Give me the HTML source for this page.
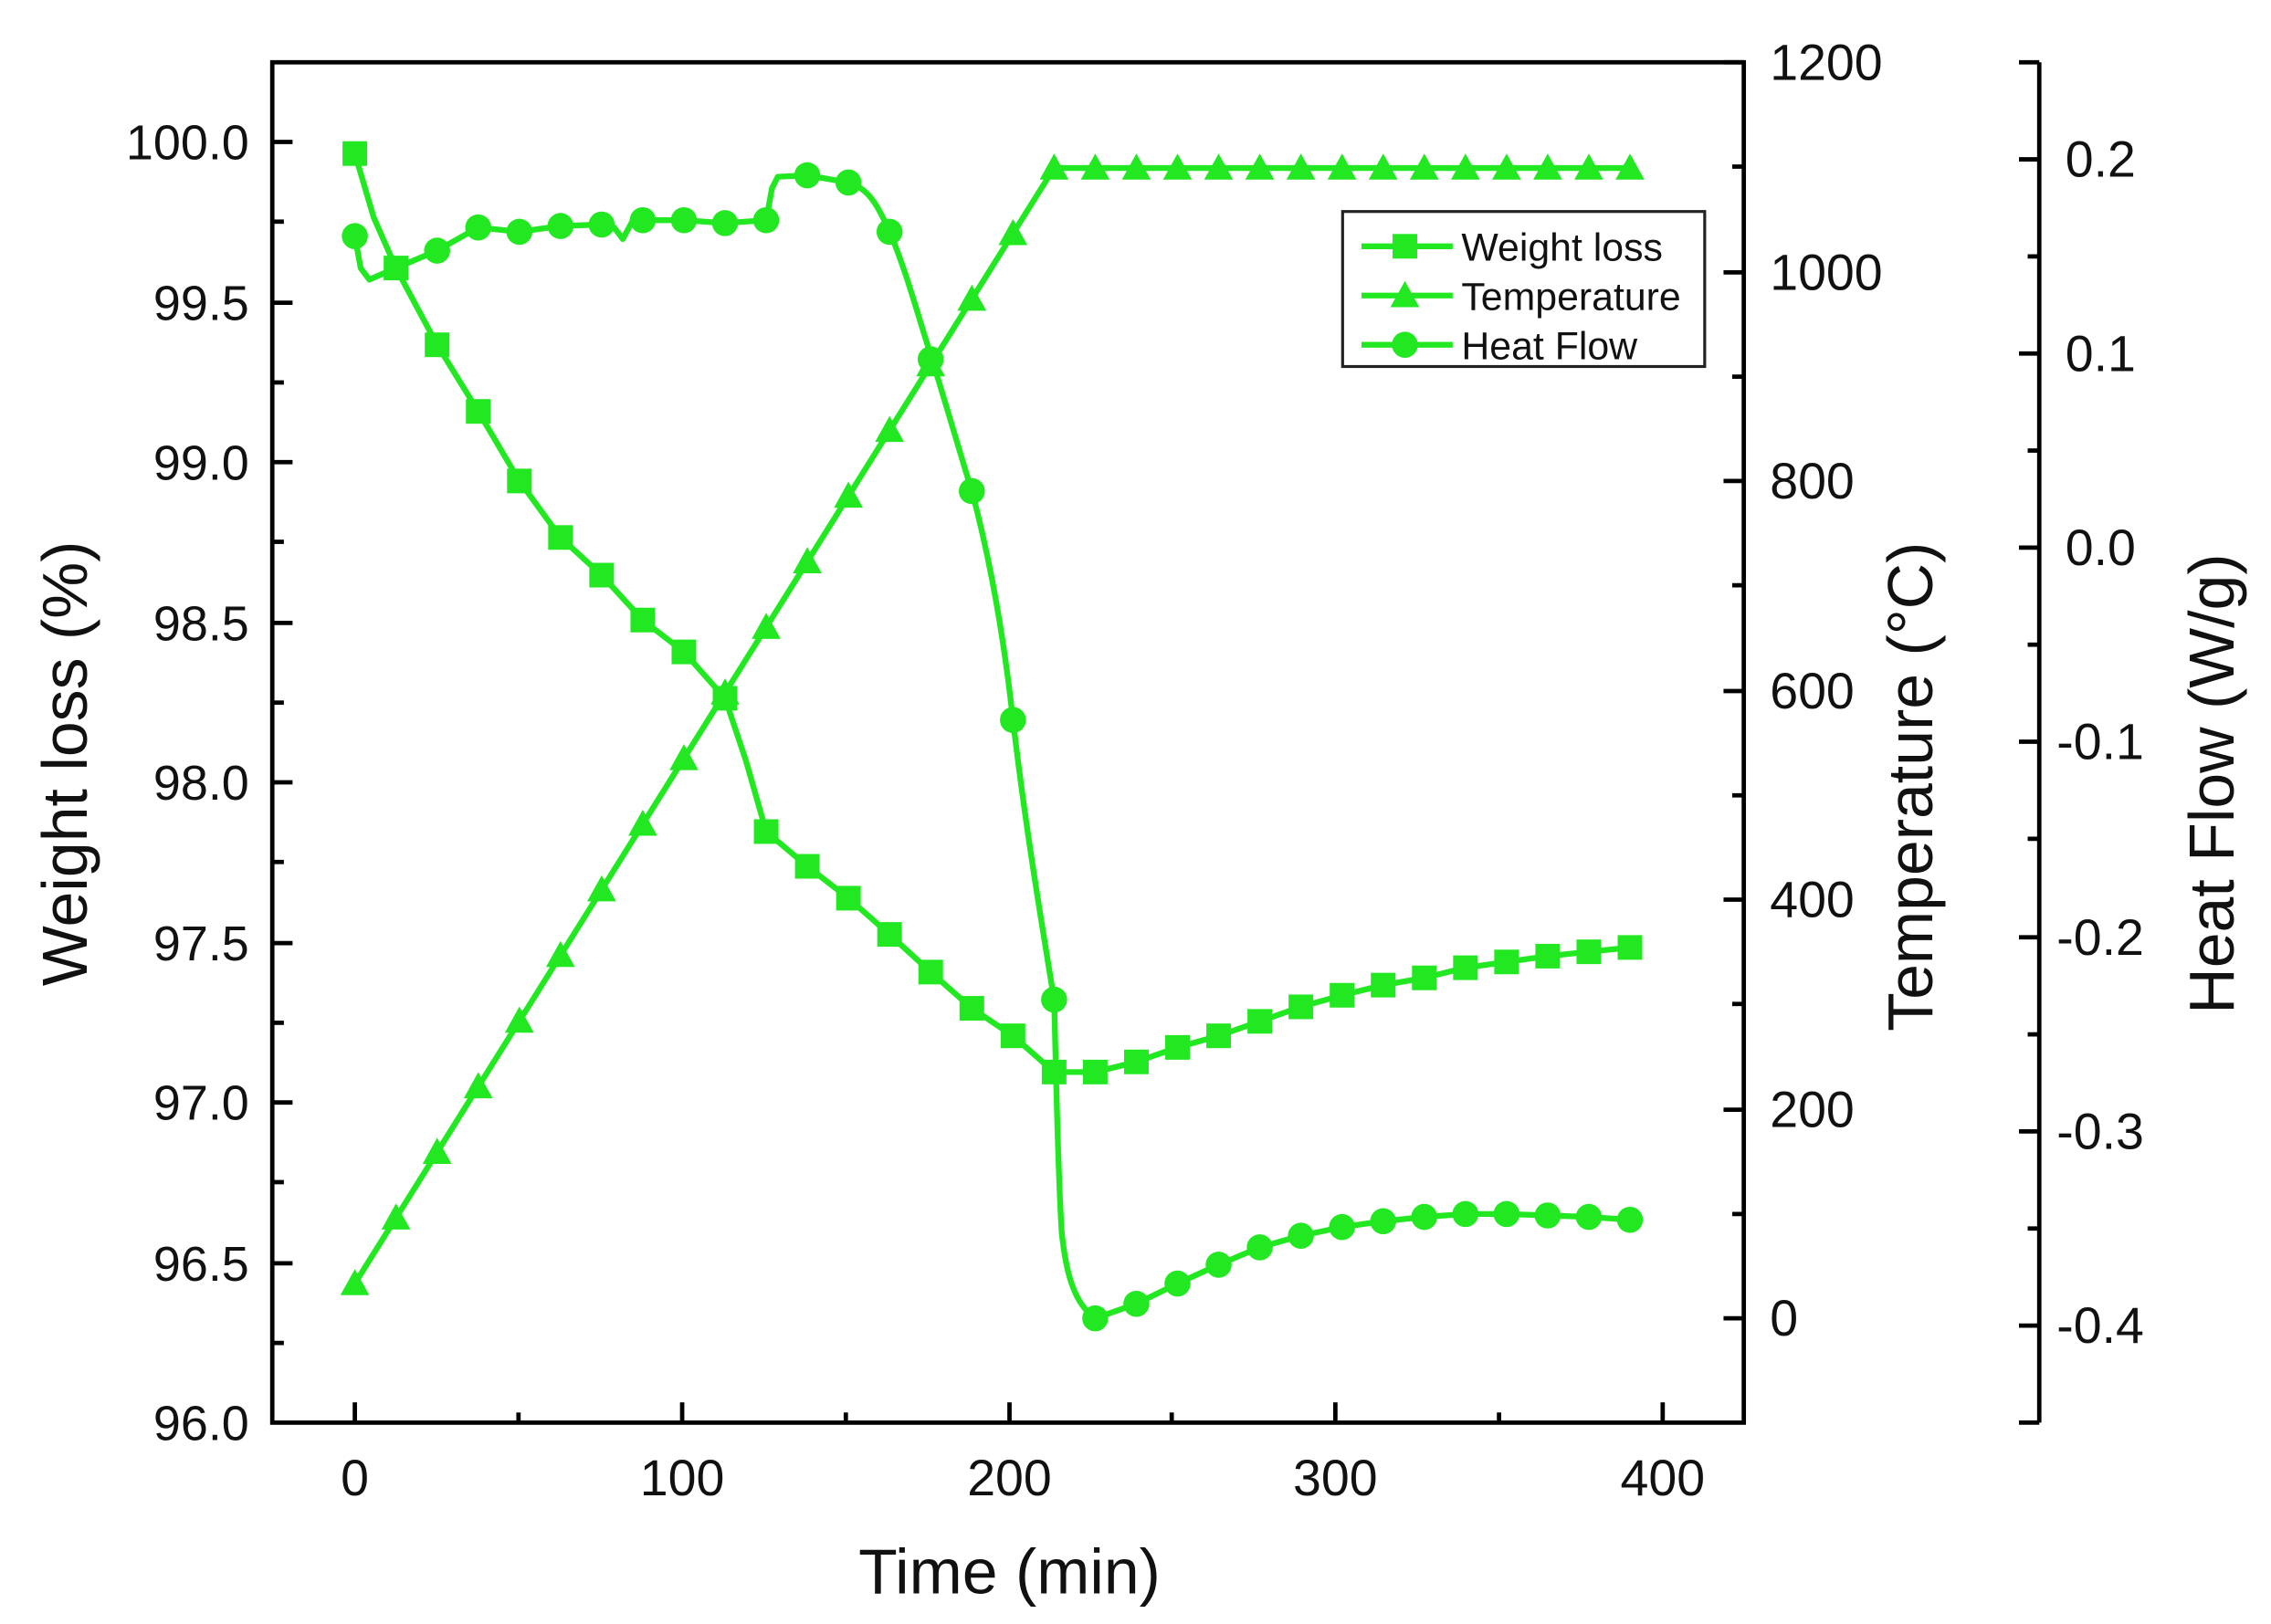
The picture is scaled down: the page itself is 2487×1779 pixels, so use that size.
<!DOCTYPE html>
<html><head><meta charset="utf-8"><style>
html,body{margin:0;padding:0;background:#fff;}
svg{display:block;}
text{font-family:"Liberation Sans",Arial,sans-serif;fill:#111;}
</style></head><body>
<svg width="2487" height="1779" viewBox="0 0 1568 1121" preserveAspectRatio="none" xmlns="http://www.w3.org/2000/svg">
<defs>
<rect id="sq" x="-8.5" y="-8.5" width="17" height="17" fill="#22e822"/>
<polygon id="tr" points="0,-10 10,8 -10,8" fill="#22e822"/>
<circle id="ci" r="9" fill="#22e822"/>
</defs>
<g stroke="#000" stroke-width="3" fill="none">
<rect x="188" y="43" width="1016" height="939"/>
<line x1="1408" y1="43" x2="1408" y2="982"/>
</g>
<g stroke="#000" stroke-width="3">
<line x1="188" y1="98" x2="202" y2="98"/><line x1="188" y1="153" x2="196" y2="153"/>
<line x1="188" y1="209" x2="202" y2="209"/><line x1="188" y1="264" x2="196" y2="264"/>
<line x1="188" y1="319" x2="202" y2="319"/><line x1="188" y1="374" x2="196" y2="374"/>
<line x1="188" y1="430" x2="202" y2="430"/><line x1="188" y1="485" x2="196" y2="485"/>
<line x1="188" y1="540" x2="202" y2="540"/><line x1="188" y1="595" x2="196" y2="595"/>
<line x1="188" y1="651" x2="202" y2="651"/><line x1="188" y1="706" x2="196" y2="706"/>
<line x1="188" y1="761" x2="202" y2="761"/><line x1="188" y1="816" x2="196" y2="816"/>
<line x1="188" y1="872" x2="202" y2="872"/><line x1="188" y1="927" x2="196" y2="927"/>
<line x1="1190" y1="43" x2="1204" y2="43"/><line x1="1196" y1="115" x2="1204" y2="115"/>
<line x1="1190" y1="188" x2="1204" y2="188"/><line x1="1196" y1="260" x2="1204" y2="260"/>
<line x1="1190" y1="332" x2="1204" y2="332"/><line x1="1196" y1="404" x2="1204" y2="404"/>
<line x1="1190" y1="477" x2="1204" y2="477"/><line x1="1196" y1="549" x2="1204" y2="549"/>
<line x1="1190" y1="621" x2="1204" y2="621"/><line x1="1196" y1="693" x2="1204" y2="693"/>
<line x1="1190" y1="766" x2="1204" y2="766"/><line x1="1196" y1="838" x2="1204" y2="838"/>
<line x1="1190" y1="910" x2="1204" y2="910"/>
<line x1="1394" y1="43" x2="1408" y2="43"/>
<line x1="1394" y1="110" x2="1408" y2="110"/><line x1="1400" y1="177" x2="1408" y2="177"/>
<line x1="1394" y1="244" x2="1408" y2="244"/><line x1="1400" y1="311" x2="1408" y2="311"/>
<line x1="1394" y1="378" x2="1408" y2="378"/><line x1="1400" y1="445" x2="1408" y2="445"/>
<line x1="1394" y1="512" x2="1408" y2="512"/><line x1="1400" y1="579" x2="1408" y2="579"/>
<line x1="1394" y1="647" x2="1408" y2="647"/><line x1="1400" y1="714" x2="1408" y2="714"/>
<line x1="1394" y1="781" x2="1408" y2="781"/><line x1="1400" y1="848" x2="1408" y2="848"/>
<line x1="1394" y1="915" x2="1408" y2="915"/><line x1="1394" y1="982" x2="1408" y2="982"/>
<line x1="245" y1="982" x2="245" y2="968"/><line x1="358" y1="982" x2="358" y2="975"/>
<line x1="471" y1="982" x2="471" y2="968"/><line x1="584" y1="982" x2="584" y2="975"/>
<line x1="697" y1="982" x2="697" y2="968"/><line x1="809" y1="982" x2="809" y2="975"/>
<line x1="922" y1="982" x2="922" y2="968"/><line x1="1035" y1="982" x2="1035" y2="975"/>
<line x1="1148" y1="982" x2="1148" y2="968"/>
</g>
<g font-size="34" text-anchor="end">
<text x="172" y="110">100.0</text><text x="172" y="221">99.5</text><text x="172" y="331">99.0</text>
<text x="172" y="442">98.5</text><text x="172" y="552">98.0</text><text x="172" y="663">97.5</text>
<text x="172" y="773">97.0</text><text x="172" y="884">96.5</text><text x="172" y="994">96.0</text>
</g>
<g font-size="35">
<text x="1222" y="55">1200</text><text x="1222" y="200">1000</text><text x="1222" y="344">800</text>
<text x="1222" y="489">600</text><text x="1222" y="633">400</text><text x="1222" y="778">200</text>
<text x="1222" y="922">0</text>
<text x="1426" y="122">0.2</text><text x="1426" y="256">0.1</text><text x="1426" y="390">0.0</text>
<text x="1420" y="524">-0.1</text><text x="1420" y="659">-0.2</text><text x="1420" y="793">-0.3</text>
<text x="1420" y="927">-0.4</text>
</g>
<g font-size="35" text-anchor="middle">
<text x="245" y="1032">0</text><text x="471" y="1032">100</text><text x="697" y="1032">200</text>
<text x="922" y="1032">300</text><text x="1148" y="1032">400</text>
</g>
<g font-size="44" text-anchor="middle">
<text x="697" y="1100">Time (min)</text>
<text transform="translate(60,527) rotate(-90)">Weight loss (%)</text>
<text transform="translate(1334,543) rotate(-90)">Temperature (°C)</text>
<text transform="translate(1542,541) rotate(-90)">Heat Flow (W/g)</text>
</g>
<g fill="none" stroke="#22e822" stroke-width="4" stroke-linejoin="round">
<polyline points="245,106 258,150 273.4,185 301.8,238 330.2,284 358.6,332 387,371 415.4,397 443.8,428 472.2,450 500.6,482 515,525 529,574 557.4,598 585.8,620 614.2,645 642.6,671 671,696 699.4,715 727.8,740 756.2,740 784.6,733 813,723 841.4,715 869.8,705 898.2,695 926.6,687 955,680 983.4,675 1011.8,668 1040.2,664 1068.6,660 1097,657 1125.4,654"/>
<polyline points="245,886 273.4,840.7 301.8,795.4 330.2,750.1 358.6,704.8 387,659.5 415.4,614.2 443.8,568.9 472.2,523.6 500.6,478.3 529,433 557.4,387.7 585.8,342.4 614.2,297.1 642.6,251.8 671,206.5 699.4,161.2 727.8,116 1125.4,116"/>
<path d="M245,163 L249,185 L255,193 L273.4,185 L301.8,173 L330.2,157 L358.6,160 L387,156 L415.4,155 L424,157 L430,165 L437,152 L443.8,152 L472.2,152 L500.6,154 L529,152 L533,130 L537,122 L557.4,121 L585.8,126 C600,130 606,142 614.2,160 C625,185 633,215 642.6,245 C655,285 662,310 671,339 C682,380 692,430 699.4,497 C708,570 718,630 727.8,690 C729,730 730,800 733,850 C736,880 742,900 756.2,910 L784.6,900 L813,886 L841.4,873 L869.8,861 L898.2,853 L926.6,847 L955,843 L983.4,840 L1011.8,838 L1040.2,838 L1068.6,839 L1097,840 L1125.4,842"/>
</g>
<g>
<use href="#sq" x="245" y="106"/><use href="#sq" x="273.4" y="185"/><use href="#sq" x="301.8" y="238"/><use href="#sq" x="330.2" y="284"/><use href="#sq" x="358.6" y="332"/><use href="#sq" x="387" y="371"/><use href="#sq" x="415.4" y="397"/><use href="#sq" x="443.8" y="428"/><use href="#sq" x="472.2" y="450"/><use href="#sq" x="500.6" y="482"/><use href="#sq" x="529" y="574"/><use href="#sq" x="557.4" y="598"/><use href="#sq" x="585.8" y="620"/><use href="#sq" x="614.2" y="645"/><use href="#sq" x="642.6" y="671"/><use href="#sq" x="671" y="696"/><use href="#sq" x="699.4" y="715"/><use href="#sq" x="727.8" y="740"/><use href="#sq" x="756.2" y="740"/><use href="#sq" x="784.6" y="733"/><use href="#sq" x="813" y="723"/><use href="#sq" x="841.4" y="715"/><use href="#sq" x="869.8" y="705"/><use href="#sq" x="898.2" y="695"/><use href="#sq" x="926.6" y="687"/><use href="#sq" x="955" y="680"/><use href="#sq" x="983.4" y="675"/><use href="#sq" x="1011.8" y="668"/><use href="#sq" x="1040.2" y="664"/><use href="#sq" x="1068.6" y="660"/><use href="#sq" x="1097" y="657"/><use href="#sq" x="1125.4" y="654"/>
<use href="#tr" x="245" y="886"/><use href="#tr" x="273.4" y="840.7"/><use href="#tr" x="301.8" y="795.4"/><use href="#tr" x="330.2" y="750.1"/><use href="#tr" x="358.6" y="704.8"/><use href="#tr" x="387" y="659.5"/><use href="#tr" x="415.4" y="614.2"/><use href="#tr" x="443.8" y="568.9"/><use href="#tr" x="472.2" y="523.6"/><use href="#tr" x="500.6" y="478.3"/><use href="#tr" x="529" y="433"/><use href="#tr" x="557.4" y="387.7"/><use href="#tr" x="585.8" y="342.4"/><use href="#tr" x="614.2" y="297.1"/><use href="#tr" x="642.6" y="251.8"/><use href="#tr" x="671" y="206.5"/><use href="#tr" x="699.4" y="161.2"/><use href="#tr" x="727.8" y="116"/><use href="#tr" x="756.2" y="116"/><use href="#tr" x="784.6" y="116"/><use href="#tr" x="813" y="116"/><use href="#tr" x="841.4" y="116"/><use href="#tr" x="869.8" y="116"/><use href="#tr" x="898.2" y="116"/><use href="#tr" x="926.6" y="116"/><use href="#tr" x="955" y="116"/><use href="#tr" x="983.4" y="116"/><use href="#tr" x="1011.8" y="116"/><use href="#tr" x="1040.2" y="116"/><use href="#tr" x="1068.6" y="116"/><use href="#tr" x="1097" y="116"/><use href="#tr" x="1125.4" y="116"/>
<use href="#ci" x="245" y="163"/><use href="#ci" x="301.8" y="173"/><use href="#ci" x="330.2" y="157"/><use href="#ci" x="358.6" y="160"/><use href="#ci" x="387" y="156"/><use href="#ci" x="415.4" y="155"/><use href="#ci" x="443.8" y="152"/><use href="#ci" x="472.2" y="152"/><use href="#ci" x="500.6" y="154"/><use href="#ci" x="529" y="152"/><use href="#ci" x="557.4" y="121"/><use href="#ci" x="585.8" y="126"/><use href="#ci" x="614.2" y="160"/><use href="#ci" x="642.6" y="248"/><use href="#ci" x="671" y="339"/><use href="#ci" x="699.4" y="497"/><use href="#ci" x="727.8" y="690"/><use href="#ci" x="756.2" y="910"/><use href="#ci" x="784.6" y="900"/><use href="#ci" x="813" y="886"/><use href="#ci" x="841.4" y="873"/><use href="#ci" x="869.8" y="861"/><use href="#ci" x="898.2" y="853"/><use href="#ci" x="926.6" y="847"/><use href="#ci" x="955" y="843"/><use href="#ci" x="983.4" y="840"/><use href="#ci" x="1011.8" y="838"/><use href="#ci" x="1040.2" y="838"/><use href="#ci" x="1068.6" y="839"/><use href="#ci" x="1097" y="840"/><use href="#ci" x="1125.4" y="842"/>
</g>
<rect x="927" y="146" width="250" height="107" fill="#fff" stroke="#222" stroke-width="2"/>
<g stroke="#22e822" stroke-width="4">
<line x1="940" y1="170" x2="1003" y2="170"/><line x1="940" y1="204" x2="1003" y2="204"/><line x1="940" y1="238" x2="1003" y2="238"/>
</g>
<use href="#sq" x="970" y="170"/><use href="#tr" x="970" y="204"/><use href="#ci" x="970" y="238"/>
<g font-size="27">
<text x="1009" y="180">Weight loss</text><text x="1009" y="214">Temperature</text><text x="1009" y="248">Heat Flow</text>
</g>
</svg>
</body></html>
